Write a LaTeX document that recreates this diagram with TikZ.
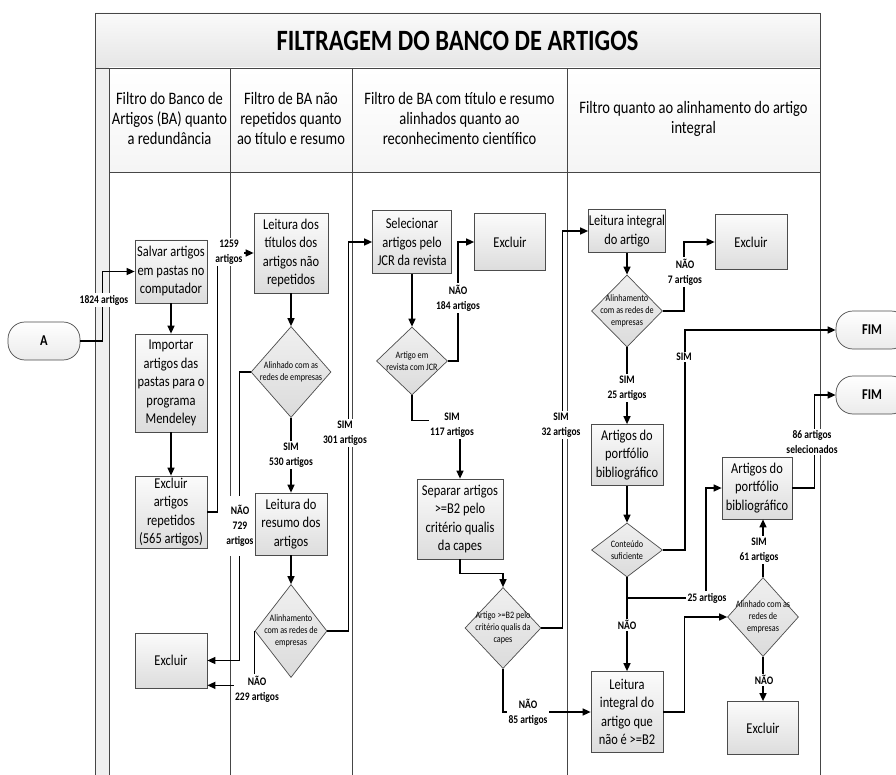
\documentclass[tikz,border=0pt]{standalone}
\usepackage{fontspec}
\setmainfont{Carlito}[FakeStretch=0.83]
\usetikzlibrary{arrows.meta,shapes.geometric}

\begin{document}
\begin{tikzpicture}[x=1pt,y=-1pt,
  lane/.style={draw=gray!55!black, line width=0.8pt},
  stepbox/.style={draw=gray!60!black, line width=0.7pt, top color=gray!3, bottom color=gray!27,
    align=center, inner sep=0pt, font=\fontsize{15}{18.5}\selectfont},
  decision/.style={diamond, draw=gray!60!black, line width=0.7pt, top color=gray!12, bottom color=gray!28,
    inner sep=0pt},
  dtext/.style={align=center, inner sep=0pt, font=\fontsize{9.8}{12}\selectfont},
  terminal/.style={draw=gray!60!black, line width=0.7pt, rounded corners=17pt, top color=white, bottom color=gray!16,
    minimum height=38pt, font=\bfseries\fontsize{15}{17}\selectfont},
  head/.style={align=center, inner sep=0pt, font=\fontsize{17.5}{20}\selectfont},
  lbl/.style={fill=white, inner sep=1.5pt, align=center, font=\bfseries\fontsize{11.5}{15}\selectfont},
  conn/.style={line width=1.4pt, -{Triangle[length=8pt,width=7pt]}},
]
\clip (0,0) rectangle (896,775);
\fill[white] (0,0) rectangle (896,775);

% pool frame, title band and lane headers
\fill[top color=gray!4, bottom color=gray!20] (95,13) rectangle (820,68);
\fill[top color=white, bottom color=gray!8] (109,68) rectangle (820,172);
\fill[gray!12] (95,68) rectangle (109,775);
\draw[lane] (95,13) rectangle (820,68);
\draw[lane] (95,68) -- (95,775) (109,68) -- (109,775) (820,68) -- (820,775);
\draw[lane] (109,172) -- (820,172);
\draw[lane] (230,68) -- (230,775) (352,68) -- (352,775) (567,68) -- (567,775);

\node[font=\bfseries\fontsize{29.5}{32}\selectfont] (title) at (457.5,41) {FILTRAGEM DO BANCO DE ARTIGOS};
\node[head] (h1) at (169.5,118) {Filtro do Banco de\\Artigos (BA) quanto\\a redundância};
\node[head] (h2) at (291,118) {Filtro de BA não\\repetidos quanto\\ao título e resumo};
\node[head] (h3) at (459.5,118) {Filtro de BA com título e resumo\\alinhados quanto ao\\reconhecimento científico};
\node[head] (h4) at (693.5,119) {Filtro quanto ao alinhamento do artigo\\integral};

% terminals
\node[terminal, minimum width=72pt] (A) at (44,341) {A};
\node[terminal, minimum width=72pt] (fim1) at (872,330) {FIM};
\node[terminal, minimum width=72pt] (fim2) at (872,395) {FIM};

% lane 1
\node[stepbox, minimum width=72pt, minimum height=63pt] (n1) at (171,271.5) {Salvar artigos\\em pastas no\\computador};
\node[stepbox, minimum width=72pt, minimum height=98pt] (n2) at (171,383) {Importar\\artigos das\\pastas para o\\programa\\Mendeley};
\node[stepbox, minimum width=72pt, minimum height=72pt] (n3) at (171,512) {Excluir\\artigos\\repetidos\\(565 artigos)};
\node[stepbox, minimum width=72pt, minimum height=55pt] (ex1) at (171,660.5) {Excluir};

% lane 2
\node[stepbox, minimum width=74pt, minimum height=80pt] (t1) at (291,253) {Leitura dos\\títulos dos\\artigos não\\repetidos};
\node[decision, minimum width=80pt, minimum height=91pt,
  label={[dtext]center:{Alinhado com as\\redes de empresas}}] (d1) at (291,372) {};
\node[stepbox, minimum width=72pt, minimum height=62pt] (t2) at (291,524) {Leitura do\\resumo dos\\artigos};
\node[decision, minimum width=72pt, minimum height=93pt,
  label={[dtext]center:{Alinhamento\\com as redes de\\empresas}}] (d2) at (291,631) {};

% lane 3
\node[stepbox, minimum width=79pt, minimum height=63pt] (s1) at (412,242) {Selecionar\\artigos pelo\\JCR da revista};
\node[stepbox, minimum width=71pt, minimum height=57pt] (ex3) at (510,242) {Excluir};
\node[decision, minimum width=71pt, minimum height=68pt,
  label={[dtext]center:{Artigo em\\revista com JCR}}] (d3) at (412,361) {};
\node[stepbox, minimum width=86pt, minimum height=80pt] (s2) at (460,519) {Separar artigos\\>=B2 pelo\\critério qualis\\da capes};
\node[decision, minimum width=76pt, minimum height=81pt,
  label={[dtext]center:{Artigo >=B2 pelo\\critério qualis da\\capes}}] (d4) at (503,628) {};

% lane 4
\node[stepbox, minimum width=77pt, minimum height=43pt] (l1) at (627,231) {Leitura integral\\do artigo};
\node[stepbox, minimum width=72pt, minimum height=55pt] (ex4) at (751,242) {Excluir};
\node[decision, minimum width=71pt, minimum height=72pt,
  label={[dtext]center:{Alinhamento\\com as redes de\\empresas}}] (d5) at (627,311) {};
\node[stepbox, minimum width=72pt, minimum height=61pt] (p1) at (627,455) {Artigos do\\portfólio\\bibliográfico};
\node[decision, minimum width=71pt, minimum height=54pt,
  label={[dtext]center:{Conteúdo\\suficiente}}] (d6) at (627,550) {};
\node[stepbox, minimum width=72pt, minimum height=81pt] (l2) at (627,712) {Leitura\\integral do\\artigo que\\não é >=B2};
\node[stepbox, minimum width=70pt, minimum height=62pt] (p2) at (757,488) {Artigos do\\portfólio\\bibliográfico};
\node[decision, minimum width=71pt, minimum height=79pt,
  label={[dtext]center:{Alinhado com as\\redes de\\empresas}}] (d7) at (763,617) {};
\node[stepbox, minimum width=71pt, minimum height=53pt] (ex5) at (763,728) {Excluir};

% connectors
\draw[conn] (A.east) -- ++(22,0) |- (n1.west);
\draw[conn] (n1.south) -- (n2.north);
\draw[conn] (n2.south) -- (n3.north);
\draw[conn] (n3.east) -- ++(10,0) |- (t1.west);
\draw[conn] (t1.south) -- (d1.north);
\draw[conn] (d1.west) -- ++(-11,0) |- (ex1.east);
\draw[conn] (d1.south) -- (t2.north);
\draw[conn] (t2.south) -- (d2.north);
\draw[conn] (d2.west) |- ([yshift=3pt]ex1.south east);
\draw[conn] (d2.east) -- ++(21,0) |- (s1.west);
\draw[conn] (s1.south) -- (d3.north);
\draw[conn] (d3.east) -- ++(10,0) |- (ex3.west);
\draw[conn] (d3.south) -- ++(0,25) -| (s2.north);
\draw[conn] (s2.south) -- ++(0,14) -| (d4.north);
\draw[conn] (d4.east) -- ++(21,0) |- (l1.west);
\draw[conn] (d4.south) |- (l2.west);
\draw[conn] (l1.south) -- (d5.north);
\draw[conn] (d5.east) -- ++(21,0) |- (ex4.west);
\draw[conn] (d5.south) -- (p1.north);
\draw[conn] (p1.south) -- (d6.north);
\draw[conn] (d6.east) -- ++(22,0) |- (fim1.west);
\draw[conn] (d6.south) -- (l2.north);
\coordinate (br) at (d6.south |- 0,598);
\draw[conn] (br) -- (706,598) |- (p2.west);
\draw[conn] (l2.east) -- ++(21,0) |- (d7.west);
\draw[conn] (d7.north) -- (d7.north |- p2.south);
\draw[conn] (d7.south) -- (ex5.north);
\draw[conn] (p2.east) -- ++(22,0) |- (fim2.west);

% connector labels
\node[lbl] (c1824) at (104,300) {1824 artigos};
\node[lbl] (c1259) at (229,252) {1259\\artigos};
\node[lbl, inner ysep=9pt] (c729) at (240,526) {NÃO\\729\\artigos};
\node[lbl] (c530) at (291,455) {SIM\\530 artigos};
\node[lbl] (c301) at (345,433) {SIM\\301 artigos};
\node[lbl] (c229) at (257,689) {NÃO\\229 artigos};
\node[lbl] (c184) at (458,298) {NÃO\\184 artigos};
\node[lbl] (c117) at (452,425) {SIM\\117 artigos};
\node[lbl] (c32) at (561,425) {SIM\\32 artigos};
\node[lbl] (c85) at (528,712) {NÃO\\85 artigos};
\node[lbl] (c7) at (685,272) {NÃO\\7 artigos};
\node[lbl] (c25) at (627,388) {SIM\\25 artigos};
\node[lbl] (csim) at (684,357) {SIM};
\node[lbl] (c86) at (812,442) {86 artigos\\selecionados};
\node[lbl] (c25b) at (707,598) {25 artigos};
\node[lbl] (cnao) at (627,625) {NÃO};
\node[lbl] (c61) at (759,550) {SIM\\61 artigos};
\node[lbl] (cnao2) at (764,680) {NÃO};
\end{tikzpicture}
\end{document}
